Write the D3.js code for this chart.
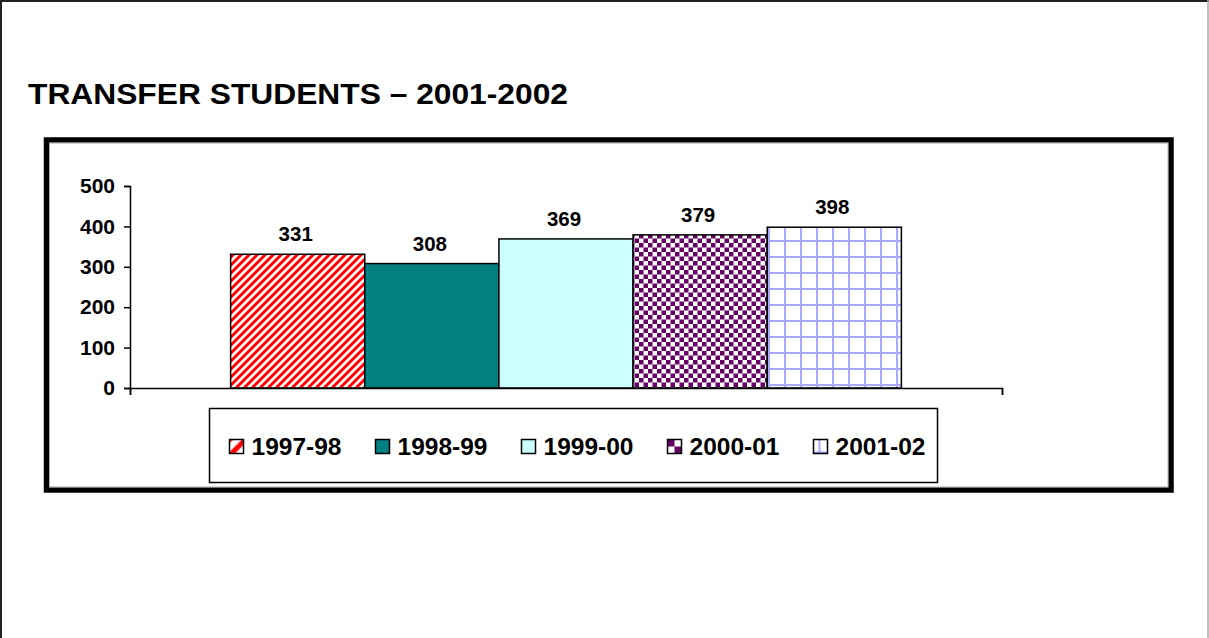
<!DOCTYPE html>
<html>
<head>
<meta charset="utf-8">
<script src="https://cdn.jsdelivr.net/npm/d3@7"></script>
<style>
  body { margin: 0; background: #fff; }
  text { font-family: "Liberation Sans", Arial, sans-serif; font-weight: bold; fill: #000; }
</style>
</head>
<body>
<div id="chart"></div>
<script>

// chart data
let chartTitle = "TRANSFER STUDENTS \u2013 2001-2002";
let seriesNames = ["1997-98", "1998-99", "1999-00", "2000-01", "2001-02"];
let seriesValues = [331, 308, 369, 379, 398];
let yTicks = [0, 100, 200, 300, 400, 500];

function transferChart() {

	let W = 1209, H = 638;

	let svg = d3
		.select("#chart")
		.append("svg")
		.attr("width", W)
		.attr("height", H);

	// page edges
	svg.append("line").attr("x1", 0).attr("x2", W).attr("y1", 1).attr("y2", 1)
		.attr("stroke", "#222").attr("stroke-width", 2);
	svg.append("line").attr("x1", 1).attr("x2", 1).attr("y1", 0).attr("y2", H)
		.attr("stroke", "#222").attr("stroke-width", 2);
	svg.append("line").attr("x1", W - 1).attr("x2", W - 1).attr("y1", 0).attr("y2", H)
		.attr("stroke", "#aaa").attr("stroke-width", 1.5);

	let defs = svg.append("defs");

	// builds the fill patterns; size = pattern period
	function stripes(id, size, w) {
		let p = defs.append("pattern").attr("id", id)
			.attr("patternUnits", "userSpaceOnUse").attr("width", size).attr("height", size);
		p.append("rect").attr("width", size).attr("height", size).attr("fill", "#fff");
		p.append("path")
			.attr("d", "M-2,2 L2,-2 M0," + size + " L" + size + ",0 M" + (size - 2) + "," + (size + 2) + " L" + (size + 2) + "," + (size - 2))
			.attr("stroke", "#ff0000").attr("stroke-width", w);
	}
	function checker(id, c) {
		let p = defs.append("pattern").attr("id", id)
			.attr("patternUnits", "userSpaceOnUse").attr("width", 2 * c).attr("height", 2 * c);
		p.append("rect").attr("width", 2 * c).attr("height", 2 * c).attr("fill", "#fff");
		p.append("rect").attr("width", c).attr("height", c).attr("fill", "#660066");
		p.append("rect").attr("x", c).attr("y", c).attr("width", c).attr("height", c).attr("fill", "#660066");
	}
	function grid(id, size, ox, oy) {
		let p = defs.append("pattern").attr("id", id)
			.attr("patternUnits", "userSpaceOnUse").attr("width", size).attr("height", size);
		p.append("rect").attr("width", size).attr("height", size).attr("fill", "#fff");
		p.append("path").attr("d", "M" + ox + ",0 V" + size + " M0," + oy + " H" + size)
			.attr("stroke", "#a8a8ff").attr("stroke-width", 2);
	}

	stripes("fill0", 8, 3);
	checker("fill3", 4.5);
	grid("fill4", 16, 1, 1);

	// legend swatches use a coarser version of the same fills
	stripes("leg0", 16, 5);
	checker("leg3", 7);
	grid("leg4", 16, 6, 13);

	let fills = ["url(#fill0)", "#008080", "#ccffff", "url(#fill3)", "url(#fill4)"];
	let legFills = ["url(#leg0)", "#008080", "#ccffff", "url(#leg3)", "url(#leg4)"];

	// title
	svg.append("text")
		.attr("x", 28)
		.attr("y", 104)
		.attr("font-size", "29px")
		.attr("textLength", 540)
		.attr("lengthAdjust", "spacingAndGlyphs")
		.text(chartTitle);

	// chart frame
	svg.append("rect")
		.attr("x", 46.5).attr("y", 140)
		.attr("width", 1124.5).attr("height", 350)
		.attr("fill", "#fff")
		.attr("stroke", "#000").attr("stroke-width", 5.5);
	svg.append("rect")
		.attr("x", 49.5).attr("y", 143)
		.attr("width", 1118.5).attr("height", 344)
		.attr("fill", "none")
		.attr("stroke", "#aaa").attr("stroke-width", 1);

	// scales
	let x = d3.scaleBand()
		.domain(seriesNames)
		.range([130, 1002])
		.paddingInner(0)
		.paddingOuter(0.75);

	let y = d3.scaleLinear()
		.domain([0, 500])
		.range([388, 186]);

	// y axis
	let yAxis = svg.append("g")
		.attr("transform", "translate(130,0)")
		.call(d3.axisLeft(y).tickValues(yTicks).tickSize(6).tickPadding(9));
	yAxis.selectAll("path").attr("stroke", "#000").attr("stroke-width", 1.5);
	yAxis.selectAll("line").attr("stroke", "#000").attr("stroke-width", 1.5);
	yAxis.selectAll("text")
		.attr("font-size", "21px")
		.attr("font-family", "Liberation Sans, Arial, sans-serif")
		.attr("font-weight", "bold")
		.attr("fill", "#000");

	// bars
	svg.selectAll(".bar")
		.data(seriesValues)
		.enter()
		.append("rect")
		.attr("class", "bar")
		.attr("x", (d, i) => x(seriesNames[i]))
		.attr("y", d => y(d))
		.attr("width", x.bandwidth())
		.attr("height", d => y(0) - y(d))
		.attr("fill", (d, i) => fills[i])
		.attr("stroke", "#000")
		.attr("stroke-width", 1.5);

	// x axis line with end ticks
	let xAxis = svg.append("g")
		.attr("transform", "translate(0,388)")
		.call(d3.axisBottom(d3.scaleLinear().domain([0, 1]).range([130, 1002]))
			.tickValues([0, 1]).tickSize(7).tickFormat(""));
	xAxis.selectAll("path").attr("stroke", "#000").attr("stroke-width", 1.5);
	xAxis.selectAll("line").attr("stroke", "#000").attr("stroke-width", 1.5);

	// value labels
	svg.selectAll(".val")
		.data(seriesValues)
		.enter()
		.append("text")
		.attr("class", "val")
		.attr("x", (d, i) => x(seriesNames[i]) + x.bandwidth() / 2 - 2)
		.attr("y", d => y(d) - 13)
		.attr("text-anchor", "middle")
		.attr("font-size", "20.5px")
		.text(d => d);

	// legend
	svg.append("rect")
		.attr("x", 209.5).attr("y", 408.5)
		.attr("width", 728).attr("height", 74)
		.attr("fill", "#fff")
		.attr("stroke", "#000").attr("stroke-width", 1.5);

	let legend = svg.selectAll(".leg")
		.data(seriesNames)
		.enter()
		.append("g")
		.attr("class", "leg")
		.attr("transform", (d, i) => "translate(" + (229.5 + i * 146) + ",439.5)");

	legend.append("rect")
		.attr("width", 14).attr("height", 14)
		.attr("fill", (d, i) => legFills[i])
		.attr("stroke", "#000").attr("stroke-width", 1.5);

	legend.append("text")
		.attr("x", 22)
		.attr("y", 15.5)
		.attr("font-size", "24.5px")
		.text(d => d);
}

transferChart();
</script>
</body>
</html>
